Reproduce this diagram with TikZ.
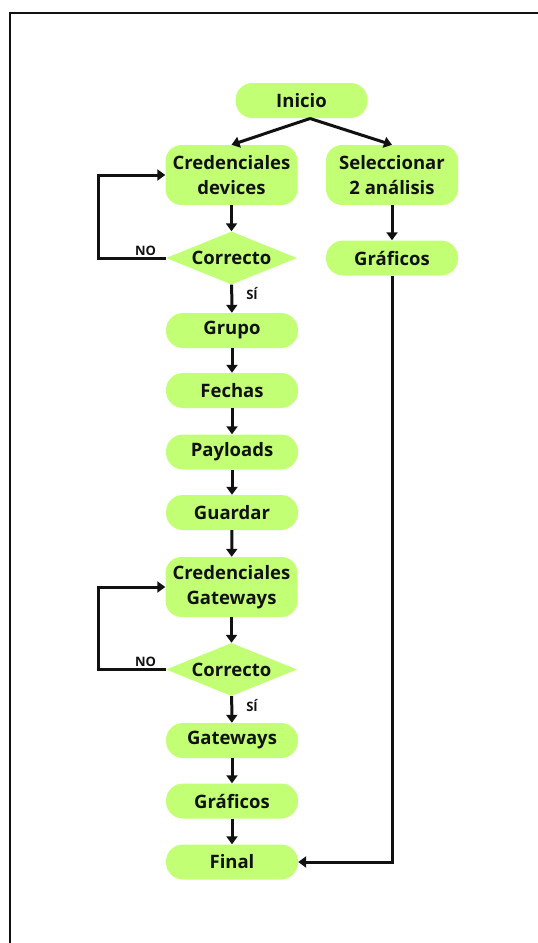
\documentclass[tikz,border=0pt]{standalone}
\usepackage{fontspec}
\setmainfont{Open Sans}
\usetikzlibrary{shapes.geometric,arrows.meta}
\definecolor{boxgreen}{HTML}{C3FF75}
\definecolor{ink}{HTML}{111111}
\begin{document}
\begin{tikzpicture}[x=1pt,y=-1pt,
  font=\fontsize{18.5}{25}\selectfont\bfseries,
  pill/.style={rectangle,rounded corners=17pt,fill=boxgreen,draw=none,
    minimum width=132pt,minimum height=35pt,inner sep=0pt,text=ink,align=center},
  tallbox/.style={pill,rounded corners=16pt,minimum height=60pt},
  decision/.style={diamond,aspect=2.5,fill=boxgreen,draw=none,inner sep=0pt,
    minimum width=131pt,minimum height=53pt,text=ink},
  arr/.style={draw=ink,line width=3pt,-{Triangle[length=8pt,width=11pt]}},
  tag/.style={font=\fontsize{13}{14}\selectfont\bfseries,text=ink,inner sep=0pt}]
  \useasboundingbox (0,0) rectangle (538,943);
  % partial frame: top and left edges
  \draw[line width=2.5pt,ink] (538,13) -- (10,13) -- (10,943);

  % nodes
  \node[pill] (inicio) at (301.5,100.5) {Inicio};
  \node[tallbox] (cred1) at (231.5,175) {Credenciales\\devices};
  \node[tallbox] (sel) at (392,175) {Seleccionar\\2 análisis};
  \node[pill] (graf1) at (392,258) {Gráficos};
  \node[decision] (corr1) at (231.5,258) {Correcto};
  \node[pill] (grupo) at (232,330.5) {Grupo};
  \node[pill] (fechas) at (232,390.5) {Fechas};
  \node[pill] (payloads) at (232,452) {Payloads};
  \node[pill] (guardar) at (232,512.5) {Guardar};
  \node[tallbox] (cred2) at (231.5,587) {Credenciales\\Gateways};
  \node[decision] (corr2) at (231.5,669.5) {Correcto};
  \node[pill] (gateways) at (232,740.5) {Gateways};
  \node[pill] (graf2) at (232,801) {Gráficos};
  \node[pill] (final) at (232,862) {Final};

  % labels
  \node[tag] (no1) at (145.5,251) {NO};
  \node[tag] (si1) at (252,294) {SÍ};
  \node[tag] (no2) at (145.5,662) {NO};
  \node[tag] (si2) at (252,706) {SÍ};

  % connectors
  \coordinate (split) at (310,118.5);
  \draw[arr] (split) -- (cred1.north);
  \draw[arr] (split) -- (sel.north);
  \draw[arr] (sel) -- (graf1);
  \draw[arr] (cred1) -- (corr1);
  \draw[arr] (corr1) -- (grupo);
  \draw[arr] (corr1.west) -- ++(-67,0) |- (cred1.west);
  \draw[arr] (grupo) -- (fechas);
  \draw[arr] (fechas) -- (payloads);
  \draw[arr] (payloads) -- (guardar);
  \draw[arr] (guardar) -- (cred2);
  \draw[arr] (cred2) -- (corr2);
  \draw[arr] (corr2.west) -- ++(-67,0) |- (cred2.west);
  \draw[arr] (corr2) -- (gateways);
  \draw[arr] (gateways) -- (graf2);
  \draw[arr] (graf2) -- (final);
  \draw[arr] (graf1.south) |- (final.east);
\end{tikzpicture}
\end{document}
